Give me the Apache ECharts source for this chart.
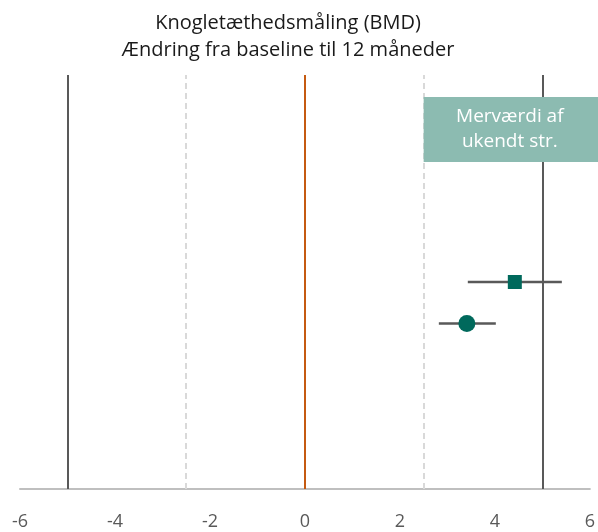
<!DOCTYPE html>
<html><head><meta charset="utf-8">
<script src="https://cdn.jsdelivr.net/npm/echarts@6/dist/echarts.min.js"></script>
<style>html,body{margin:0;padding:0;background:#fff}#c{width:598px;height:532px}</style>
</head><body><div id="c"></div>
<script>
const titleLines = ['Knogletæthedsmåling (BMD)', 'Ændring fra baseline til 12 måneder'];
const xTicks = [-6, -4, -2, 0, 2, 4, 6];
const rows = [5, 4];
const estimates = [4.42, 3.41];
const lower = [3.43, 2.82];
const upper = [5.41, 4.02];
const symbols = ['rect', 'circle'];
const refSolid = [-5, 5];
const refDashed = [-2.5, 2.5];
const refZero = [0];
const boxText = 'Merværdi af\nukendt str.';
const boxX = 2.5;
const boxY = [7.9, 9.47];

const chart = echarts.init(document.getElementById('c'));
const FONT = '"Open Sans", "Liberation Sans", sans-serif';
const teal = '#00695C';

chart.setOption({
  animation: false,
  title: {
    text: titleLines.join('\n'), left: 283, textAlign: 'center', top: 5,
    textStyle: {fontFamily: FONT, fontSize: 20, fontWeight: 'normal', color: '#1a1a1a', lineHeight: 27}
  },
  grid: {left: 20, right: 4, top: 75, bottom: 43},
  xAxis: {
    type: 'value', min: -6, max: 6, interval: 2,
    axisLine: {show: true, lineStyle: {color: '#BFBFBF', width: 2}},
    axisTick: {show: false}, splitLine: {show: false},
    axisLabel: {fontFamily: FONT, fontSize: 18, color: '#595959', margin: 24,
      formatter: v => xTicks.includes(v) ? String(v) : ''}
  },
  yAxis: {type: 'value', min: 0, max: 10, show: false},
  series: [
    {
      type: 'custom', z: 3,
      data: rows.map((r, i) => [lower[i], upper[i], r]),
      renderItem: (params, api) => {
        const a = api.coord([api.value(0), api.value(2)]);
        const b = api.coord([api.value(1), api.value(2)]);
        return {type: 'line', shape: {x1: a[0], y1: a[1], x2: b[0], y2: b[1]},
          style: {stroke: '#595959', lineWidth: 2.5}};
      },
      markLine: {
        silent: true, symbol: 'none', label: {show: false},
        data: [
          ...refSolid.map(v => ({xAxis: v, lineStyle: {color: '#595959', width: 2, type: 'solid'}})),
          ...refDashed.map(v => ({xAxis: v, lineStyle: {color: '#D9D9D9', width: 2, type: [6, 4]}})),
          ...refZero.map(v => ({xAxis: v, lineStyle: {color: '#C55A11', width: 2, type: 'solid'}}))
        ]
      }
    },
    {
      type: 'scatter', z: 5,
      data: rows.map((r, i) => ({value: [estimates[i], r], symbol: symbols[i], symbolSize: i === 0 ? 14 : 17})),
      itemStyle: {color: teal, opacity: 1}
    }
  ]
});

const p0 = chart.convertToPixel({gridIndex: 0}, [boxX, boxY[1]]);
const p1 = chart.convertToPixel({gridIndex: 0}, [boxX, boxY[0]]);
const W = chart.getWidth();
const bw = W - p0[0], bh = p1[1] - p0[1];
chart.setOption({
  graphic: [
    {
      type: 'rect', z: 100, silent: true,
      shape: {x: p0[0], y: p0[1], width: bw, height: bh},
      style: {fill: '#8CBBB1'}
    },
    {
      type: 'text', z: 101, silent: true,
      x: p0[0] + bw / 2 - 1, y: p0[1] + bh / 2,
      style: {text: boxText, fill: '#ffffff', font: '19px ' + FONT, lineHeight: 25,
        align: 'center', verticalAlign: 'middle'}
    }
  ]
});
</script></body></html>
